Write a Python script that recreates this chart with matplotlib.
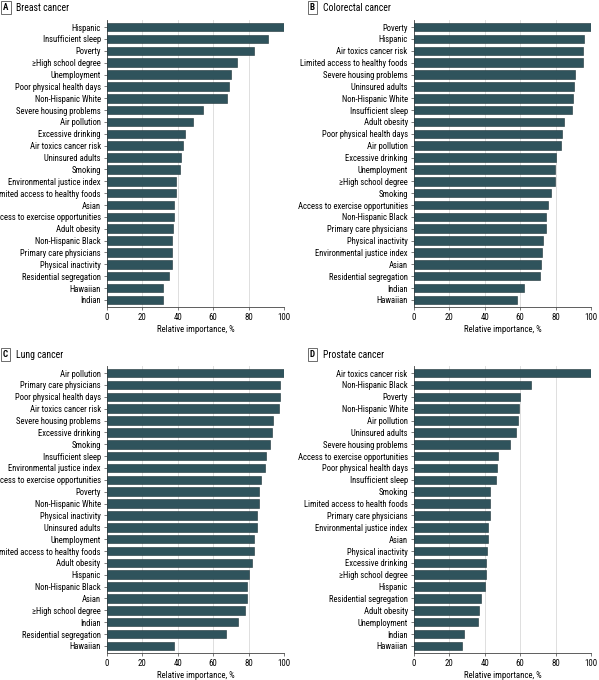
import matplotlib
matplotlib.use("Agg")
import matplotlib.pyplot as plt
plt.rcParams['font.family'] = ['Liberation Sans Narrow', 'Roboto Condensed', 'Roboto', 'DejaVu Sans']

a_labels = ["Hispanic","Insufficient sleep","Poverty","≥High school degree","Unemployment","Poor physical health days","Non-Hispanic White","Severe housing problems","Air pollution","Excessive drinking","Air toxics cancer risk","Uninsured adults","Smoking","Environmental justice index","Limited access to healthy foods","Asian","Access to exercise opportunities","Adult obesity","Non-Hispanic Black","Primary care physicians","Physical inactivity","Residential segregation","Hawaiian","Indian"]
a_vals = [100,91,83,73.5,70,69,68,54.5,48.5,44,43,42,41,39,39,38,38,37.5,37,37,37,35,31.5,31.5]
b_labels = ["Poverty","Hispanic","Air toxics cancer risk","Limited access to healthy foods","Severe housing problems","Uninsured adults","Non-Hispanic White","Insufficient sleep","Adult obesity","Poor physical health days","Air pollution","Excessive drinking","Unemployment","≥High school degree","Smoking","Access to exercise opportunities","Non-Hispanic Black","Primary care physicians","Physical inactivity","Environmental justice index","Asian","Residential segregation","Indian","Hawaiian"]
b_vals = [100,96,95.5,95.5,91,90.5,90,89.5,84.5,83.5,83,80,79.5,79.5,77.5,75.5,74.5,74.5,73,72.5,71.5,71,62,58]
c_labels = ["Air pollution","Primary care physicians","Poor physical health days","Air toxics cancer risk","Severe housing problems","Excessive drinking","Smoking","Insufficient sleep","Environmental justice index","Access to exercise opportunities","Poverty","Non-Hispanic White","Physical inactivity","Uninsured adults","Unemployment","Limited access to healthy foods","Adult obesity","Hispanic","Non-Hispanic Black","Asian","≥High school degree","Indian","Residential segregation","Hawaiian"]
c_vals = [100,98,98,97,94,93,92,90,89,87,86,86,85,85,83,83,82,80,79,79,78,74,67,38]
d_labels = ["Air toxics cancer risk","Non-Hispanic Black","Poverty","Non-Hispanic White","Air pollution","Uninsured adults","Severe housing problems","Access to exercise opportunities","Poor physical health days","Insufficient sleep","Smoking","Limited access to health foods","Primary care physicians","Environmental justice index","Asian","Physical inactivity","Excessive drinking","≥High school degree","Hispanic","Residential segregation","Adult obesity","Unemployment","Indian","Hawaiian"]
d_vals = [100,66,60,59.5,59,57.5,54,47.5,47,46.5,43,43,43,42,42,41.5,40.5,40.5,40,38,37,36,28,27]

panels = [("A","Breast cancer",a_labels,a_vals),("B","Colorectal cancer",b_labels,b_vals),
          ("C","Lung cancer",c_labels,c_vals),("D","Prostate cancer",d_labels,d_vals)]
W, H = 599, 680
fig = plt.figure(figsize=(W/100, H/100), dpi=100)
pos = [(107,20),(414,20),(107,366),(414,366)]
aw, ah = 177, 287
for (letter,title,labels,vals),(x0,y0) in zip(panels,pos):
    ax = fig.add_axes([x0/W, 1-(y0+ah)/H, aw/W, ah/H])
    y = list(range(len(vals)))
    ax.barh(y, vals, height=0.72, color="#2f535c", edgecolor="#1c3238", linewidth=0.4, zorder=3)
    ax.set_yticks(y); ax.set_yticklabels(labels, fontsize=6.2)
    ax.set_ylim(len(vals)-0.4, -0.6)
    ax.set_xlim(0,100); ax.set_xticks([0,20,40,60,80,100])
    ax.tick_params(axis="x", labelsize=6.3, length=2.5, width=0.5, color="#444", pad=2)
    ax.tick_params(axis="y", length=2.5, width=0.5, color="#444", pad=2)
    ax.grid(axis="x", color="#d9d9d9", linewidth=0.6, zorder=0)
    for s in ["top","right"]: ax.spines[s].set_visible(False)
    ax.spines["left"].set_linewidth(0.6); ax.spines["bottom"].set_linewidth(0.6)
    ax.spines["left"].set_color("#444"); ax.spines["bottom"].set_color("#444")
    ax.set_xlabel("Relative importance, %", fontsize=6.3, labelpad=2)
    bx = 3/W if letter in "AC" else 310/W
    by = 1-(3 if letter in "AB" else 350)/H
    fig.text(bx, by, letter, fontsize=6.5, fontweight="bold", va="top", ha="left",
             bbox=dict(boxstyle="square,pad=0.25", fc="white", ec="#555", lw=0.6))
    fig.text(bx+13/W, by, title, fontsize=7, va="top", ha="left")
fig.savefig("out.png", dpi=100)
